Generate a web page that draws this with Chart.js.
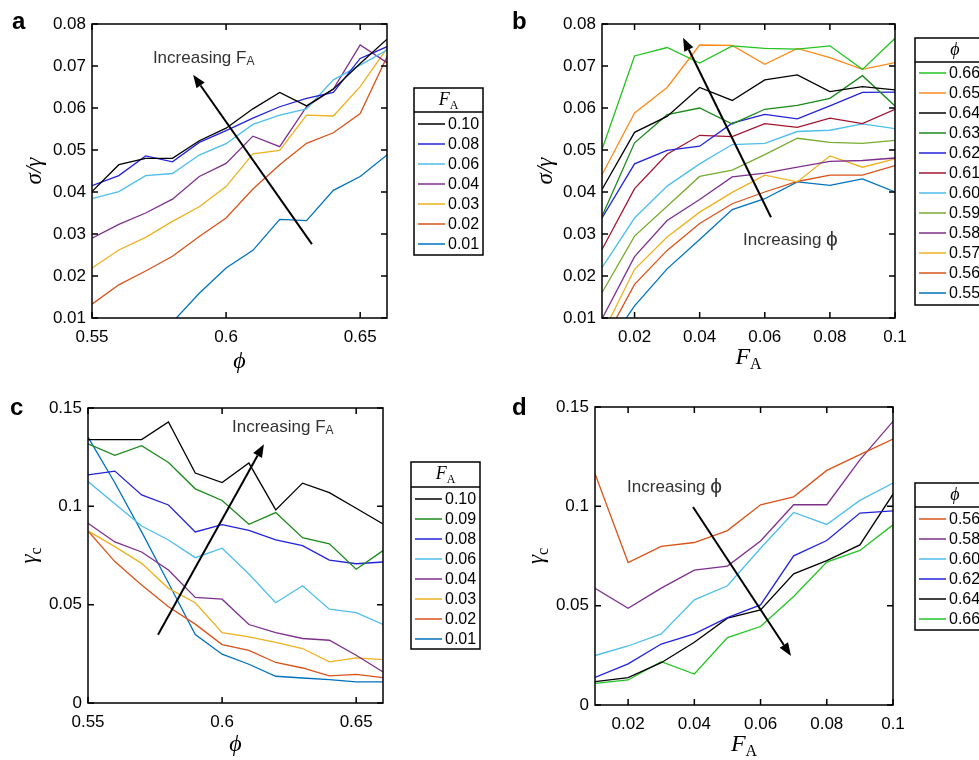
<!DOCTYPE html>
<html>
<head>
<meta charset="utf-8">
<script src="https://cdn.jsdelivr.net/npm/chart.js@4/dist/chart.umd.min.js"></script>
<style>
  html, body { margin: 0; padding: 0; background: #fff; overflow: hidden; }
  body { width: 979px; height: 760px; position: relative; }
  .panel { position: absolute; }
</style>
</head>
<body>
<div class="panel" style="left:0;top:0"><canvas id="pa" width="500" height="380"></canvas></div>
<div class="panel" style="left:500px;top:0"><canvas id="pb" width="479" height="380"></canvas></div>
<div class="panel" style="left:0;top:380px"><canvas id="pc" width="500" height="380"></canvas></div>
<div class="panel" style="left:500px;top:380px"><canvas id="pd" width="479" height="380"></canvas></div>
<script>
// x positions
const phi = [0.55, 0.56, 0.57, 0.58, 0.59, 0.60, 0.61, 0.62, 0.63, 0.64, 0.65, 0.66];
const fa = [0.01, 0.02, 0.03, 0.04, 0.05, 0.06, 0.07, 0.08, 0.09, 0.10];

// panel a: sigma/gamma vs phi, one line per F_A
const aLabels = ["0.10", "0.08", "0.06", "0.04", "0.03", "0.02", "0.01"];
const a010 = [0.0401, 0.0465, 0.048, 0.048, 0.0522, 0.0552, 0.0598, 0.0637, 0.0605, 0.0645, 0.0706, 0.0764];
const a008 = [0.0415, 0.0439, 0.0486, 0.0472, 0.0518, 0.0546, 0.0576, 0.0603, 0.0623, 0.0637, 0.0718, 0.0746];
const a006 = [0.0384, 0.0401, 0.0439, 0.0444, 0.0488, 0.0515, 0.0561, 0.0583, 0.0598, 0.0667, 0.0702, 0.0738];
const a004 = [0.029, 0.0323, 0.035, 0.0383, 0.0437, 0.0468, 0.0533, 0.0508, 0.0603, 0.0645, 0.075, 0.0708];
const a003 = [0.0219, 0.0262, 0.0292, 0.033, 0.0365, 0.0413, 0.0491, 0.0499, 0.0583, 0.0581, 0.0651, 0.0742];
const a002 = [0.0133, 0.0179, 0.0212, 0.0247, 0.0294, 0.0338, 0.0407, 0.0465, 0.0516, 0.0541, 0.0587, 0.0722];
const a001 = [0.002, 0.004, 0.0065, 0.009, 0.0159, 0.0219, 0.0261, 0.0335, 0.0332, 0.0404, 0.0437, 0.0488];

// panel b: sigma/gamma vs F_A, one line per phi
const bLabels = ["0.66", "0.65", "0.64", "0.63", "0.62", "0.61", "0.60", "0.59", "0.58", "0.57", "0.56", "0.55"];
const b066 = [0.0501, 0.0724, 0.0744, 0.0707, 0.0748, 0.0742, 0.074, 0.0748, 0.0692, 0.0766];
const b065 = [0.0441, 0.0588, 0.0649, 0.075, 0.0749, 0.0704, 0.0742, 0.072, 0.0692, 0.0708];
const b064 = [0.0406, 0.0542, 0.058, 0.0649, 0.0618, 0.0667, 0.0679, 0.0639, 0.0651, 0.0643];
const b063 = [0.0342, 0.0517, 0.0584, 0.06, 0.0562, 0.0597, 0.0606, 0.0623, 0.0677, 0.0605];
const b062 = [0.0338, 0.0467, 0.0499, 0.0509, 0.0564, 0.0585, 0.0574, 0.0605, 0.0637, 0.0638];
const b061 = [0.0263, 0.0408, 0.049, 0.0535, 0.0532, 0.0563, 0.0554, 0.0576, 0.0563, 0.0597];
const b060 = [0.022, 0.0338, 0.0414, 0.0467, 0.0513, 0.0516, 0.0544, 0.0547, 0.0562, 0.0551];
const b059 = [0.016, 0.0295, 0.0366, 0.0437, 0.0452, 0.0489, 0.0528, 0.0518, 0.0516, 0.0523];
const b058 = [0.0098, 0.0246, 0.0332, 0.0382, 0.0436, 0.0445, 0.0459, 0.0473, 0.0475, 0.0481];
const b057 = [0.006, 0.0216, 0.0293, 0.0352, 0.0399, 0.044, 0.0424, 0.0486, 0.0459, 0.0479];
const b056 = [0.0037, 0.018, 0.0261, 0.0325, 0.0372, 0.04, 0.0425, 0.044, 0.044, 0.0463];
const b055 = [0.0015, 0.0129, 0.0217, 0.0287, 0.0358, 0.0384, 0.0424, 0.0416, 0.0431, 0.04];

// panel c: gamma_c vs phi, one line per F_A
const cLabels = ["0.10", "0.09", "0.08", "0.06", "0.04", "0.03", "0.02", "0.01"];
const c010 = [0.1339, 0.1339, 0.1339, 0.1429, 0.1169, 0.1121, 0.122, 0.0982, 0.1118, 0.107, 0.099, 0.091];
const c009 = [0.1318, 0.1259, 0.1308, 0.1223, 0.1089, 0.103, 0.0909, 0.0968, 0.0841, 0.0809, 0.068, 0.0775];
const c008 = [0.116, 0.1179, 0.1058, 0.1007, 0.087, 0.0907, 0.0878, 0.0829, 0.08, 0.0727, 0.0708, 0.0717];
const c006 = [0.1126, 0.1013, 0.09, 0.0829, 0.0739, 0.0787, 0.0656, 0.051, 0.0596, 0.0477, 0.0459, 0.0399];
const c004 = [0.0914, 0.0819, 0.0768, 0.0676, 0.0537, 0.0528, 0.0399, 0.0358, 0.0328, 0.0319, 0.0243, 0.0158];
const c003 = [0.0875, 0.0795, 0.071, 0.0583, 0.051, 0.0358, 0.0336, 0.0308, 0.0277, 0.0209, 0.0229, 0.0221];
const c002 = [0.0875, 0.0719, 0.06, 0.0489, 0.0401, 0.0297, 0.0268, 0.0206, 0.0178, 0.0138, 0.0146, 0.0129];
const c001 = [0.1352, 0.112, 0.087, 0.061, 0.0348, 0.0248, 0.0197, 0.0136, 0.0127, 0.0119, 0.0107, 0.0107];

// panel d: gamma_c vs F_A, one line per phi
const dLabels = ["0.56", "0.58", "0.60", "0.62", "0.64", "0.66"];
const d056 = [0.1164, 0.0717, 0.0798, 0.0818, 0.0878, 0.1008, 0.1048, 0.1181, 0.126, 0.1339];
const d058 = [0.0588, 0.0487, 0.0588, 0.0679, 0.0699, 0.0826, 0.1008, 0.1008, 0.1234, 0.1428];
const d060 = [0.0249, 0.0297, 0.0358, 0.0529, 0.06, 0.0789, 0.0969, 0.0909, 0.103, 0.1117];
const d062 = [0.0139, 0.0207, 0.0307, 0.0358, 0.044, 0.0504, 0.0751, 0.0828, 0.0966, 0.0977];
const d064 = [0.0118, 0.0138, 0.0213, 0.0316, 0.0437, 0.0479, 0.066, 0.0727, 0.0806, 0.1061];
const d066 = [0.0109, 0.0126, 0.0218, 0.0156, 0.0339, 0.0395, 0.0546, 0.0719, 0.0778, 0.0907];

// tick values
const phiTicks = [0.55, 0.6, 0.65];
const faTicks = [0.02, 0.04, 0.06, 0.08, 0.1];
const sigTicks = [0.01, 0.02, 0.03, 0.04, 0.05, 0.06, 0.07, 0.08];
const gcTicks = [0, 0.05, 0.1, 0.15];

const SANS = '"Liberation Sans", Arial, Helvetica, sans-serif';
const SERIF = '"Liberation Serif", "Times New Roman", "DejaVu Serif", serif';

const BLACK = "#000000", BLUE = "#2222dd", LBLUE = "#4dbeee", PURPLE = "#7e2f8e",
  YELLOW = "#edb120", RED = "#d95319", DBLUE = "#0072bd", DGREEN = "#1a8a1a",
  GREEN = "#22c422", ORANGE = "#ff8a1a", MAROON = "#a2142f", OLIVE = "#77ac30";

const fmt = v => String(parseFloat(Number(v).toFixed(3)));

const italic = (t, s) => ({ t: t, font: "italic " + s + "px " + SERIF });
const FA = s => [italic("F", s), { t: "A", font: Math.round(s * 0.68) + "px " + SERIF, dy: s * 0.3 }];
const PHI = s => [italic("ϕ", s)];
const SIG = s => [italic("σ/γ", s)];
const GC = s => [italic("γ", s), { t: "c", font: Math.round(s * 0.7) + "px " + SERIF, dy: s * 0.3 }];
const incFA = [{ t: "Increasing F", font: "17px " + SANS }, { t: "A", font: "12px " + SANS, dy: 4 }];
const incPhi = [{ t: "Increasing ", font: "17px " + SANS }, { t: "ϕ", font: "21px " + SANS }];

function drawRich(ctx, parts, x, y, align) {
  let w = 0;
  parts.forEach(p => { ctx.font = p.font; w += ctx.measureText(p.t).width; });
  let cx = align === "center" ? x - w / 2 : x;
  ctx.textAlign = "left";
  ctx.textBaseline = "middle";
  parts.forEach(p => {
    ctx.font = p.font;
    ctx.fillText(p.t, cx, y + (p.dy || 0));
    cx += ctx.measureText(p.t).width;
  });
}

// frame, inward ticks, titles, arrow, label and boxed legend
const decor = {
  id: "decor",
  afterDraw(chart, args, o) {
    const { ctx, chartArea: ca } = chart;
    const xs = chart.scales.x, ys = chart.scales.y;
    ctx.save();
    ctx.strokeStyle = "#000";
    ctx.lineWidth = 1.5;
    ctx.strokeRect(ca.left, ca.top, ca.width, ca.height);
    ctx.beginPath();
    xs.ticks.forEach(t => {
      const p = xs.getPixelForValue(t.value);
      ctx.moveTo(p, ca.bottom); ctx.lineTo(p, ca.bottom - 6);
      ctx.moveTo(p, ca.top); ctx.lineTo(p, ca.top + 6);
    });
    ys.ticks.forEach(t => {
      const p = ys.getPixelForValue(t.value);
      ctx.moveTo(ca.left, p); ctx.lineTo(ca.left + 6, p);
      ctx.moveTo(ca.right, p); ctx.lineTo(ca.right - 6, p);
    });
    ctx.stroke();

    // axis titles
    ctx.fillStyle = "#000";
    drawRich(ctx, o.xTitle, (ca.left + ca.right) / 2, ca.bottom + o.xTitleOff, "center");
    ctx.save();
    ctx.translate(ca.left + o.yTitleOff, (ca.top + ca.bottom) / 2);
    ctx.rotate(-Math.PI / 2);
    drawRich(ctx, o.yTitle, 0, 0, "center");
    ctx.restore();

    // arrow
    const x0 = xs.getPixelForValue(o.arrow[0]), y0 = ys.getPixelForValue(o.arrow[1]);
    const x1 = xs.getPixelForValue(o.arrow[2]), y1 = ys.getPixelForValue(o.arrow[3]);
    const ang = Math.atan2(y1 - y0, x1 - x0), hl = 13, hw = 5;
    ctx.lineWidth = 2;
    ctx.beginPath();
    ctx.moveTo(x0, y0);
    ctx.lineTo(x1 - hl * Math.cos(ang), y1 - hl * Math.sin(ang));
    ctx.stroke();
    ctx.beginPath();
    ctx.moveTo(x1, y1);
    ctx.lineTo(x1 - hl * Math.cos(ang) + hw * Math.sin(ang), y1 - hl * Math.sin(ang) - hw * Math.cos(ang));
    ctx.lineTo(x1 - hl * Math.cos(ang) - hw * Math.sin(ang), y1 - hl * Math.sin(ang) + hw * Math.cos(ang));
    ctx.closePath();
    ctx.fillStyle = "#000";
    ctx.fill();

    // annotation text
    ctx.fillStyle = "#333";
    drawRich(ctx, o.note, xs.getPixelForValue(o.noteAt[0]), ys.getPixelForValue(o.noteAt[1]), "left");

    // panel letter
    ctx.fillStyle = "#000";
    ctx.font = "bold 24px " + SANS;
    ctx.textBaseline = "alphabetic";
    ctx.textAlign = "left";
    ctx.fillText(o.letter, o.letterAt[0], o.letterAt[1]);

    // legend
    const L = o.legend, ds = chart.data.datasets;
    const h = L.headH + L.pad + (ds.length - 1) * L.step + L.bottom;
    ctx.fillStyle = "#fff";
    ctx.fillRect(L.x, L.y, L.w, h);
    ctx.lineWidth = 1.5;
    ctx.strokeStyle = "#000";
    ctx.strokeRect(L.x, L.y, L.w, h);
    ctx.beginPath();
    ctx.moveTo(L.x, L.y + L.headH); ctx.lineTo(L.x + L.w, L.y + L.headH);
    ctx.stroke();
    ctx.fillStyle = "#000";
    drawRich(ctx, L.head, L.x + L.w / 2, L.y + L.headH / 2, "center");
    ds.forEach((d, i) => {
      const yy = L.y + L.headH + L.pad + i * L.step;
      ctx.strokeStyle = d.borderColor;
      ctx.lineWidth = 1.5;
      ctx.beginPath();
      ctx.moveTo(L.x + 4, yy); ctx.lineTo(L.x + 31, yy);
      ctx.stroke();
      ctx.fillStyle = "#000";
      ctx.font = "16px " + SANS;
      ctx.textBaseline = "middle";
      ctx.fillText(d.label, L.x + 34, yy + 1);
    });
    ctx.restore();
  }
};

function axis(min, max, ticks, size, isX) {
  return {
    type: "linear",
    min: min,
    max: max,
    grid: { display: false, drawTicks: false },
    border: { display: false },
    ticks: {
      color: "#000",
      font: { family: SANS, size: 17 },
      padding: isX ? 9 : 6,
      autoSkip: false,
      maxRotation: 0,
      callback: v => fmt(v)
    },
    afterBuildTicks: s => { s.ticks = ticks.map(v => ({ value: v })); },
    afterFit: s => { if (isX) s.height = size; else s.width = size; }
  };
}

function makePanel(id, p) {
  return new Chart(document.getElementById(id), {
    type: "line",
    data: {
      datasets: p.series.map((s, i) => ({
        label: p.labels[i],
        data: p.x.map((xv, j) => ({ x: xv, y: s[j] })),
        borderColor: p.colors[i],
        backgroundColor: p.colors[i],
        borderWidth: 1.3,
        pointRadius: 0,
        tension: 0,
        fill: false
      }))
    },
    options: {
      responsive: false,
      animation: false,
      devicePixelRatio: 1,
      layout: { padding: p.pad },
      plugins: { legend: { display: false }, tooltip: { enabled: false }, decor: p.decor },
      scales: {
        x: axis(p.xr[0], p.xr[1], p.xTicks, p.xH, true),
        y: axis(p.yr[0], p.yr[1], p.yTicks, p.yW, false)
      }
    },
    plugins: [decor]
  });
}

makePanel("pa", {
  x: phi, labels: aLabels,
  series: [a010, a008, a006, a004, a003, a002, a001],
  colors: [BLACK, BLUE, LBLUE, PURPLE, YELLOW, RED, DBLUE],
  xr: [0.55, 0.66], yr: [0.01, 0.08], xTicks: phiTicks, yTicks: sigTicks,
  pad: { top: 24, right: 113, left: 0, bottom: 0 }, yW: 92, xH: 62,
  decor: {
    xTitle: PHI(24), xTitleOff: 44, yTitle: SIG(23), yTitleOff: -57,
    arrow: [0.632, 0.0276, 0.5877, 0.0679], note: incFA, noteAt: [0.5727, 0.0719],
    letter: "a", letterAt: [12, 29],
    legend: { x: 414, y: 88, w: 69, headH: 24, pad: 12, step: 20, bottom: 11, head: FA(18) }
  }
});

makePanel("pb", {
  x: fa, labels: bLabels,
  series: [b066, b065, b064, b063, b062, b061, b060, b059, b058, b057, b056, b055],
  colors: [GREEN, ORANGE, BLACK, DGREEN, BLUE, MAROON, LBLUE, OLIVE, PURPLE, YELLOW, RED, DBLUE],
  xr: [0.01, 0.1], yr: [0.01, 0.08], xTicks: faTicks, yTicks: sigTicks,
  pad: { top: 24, right: 84, left: 0, bottom: 0 }, yW: 102, xH: 62,
  decor: {
    xTitle: FA(24), xTitleOff: 40, yTitle: SIG(23), yTitleOff: -56,
    arrow: [0.0619, 0.034, 0.0349, 0.0767], note: incPhi, noteAt: [0.0533, 0.0286],
    letter: "b", letterAt: [12, 29],
    legend: { x: 415, y: 38, w: 80, headH: 24, pad: 11, step: 20, bottom: 12, head: PHI(18) }
  }
});

makePanel("pc", {
  x: phi, labels: cLabels,
  series: [c010, c009, c008, c006, c004, c003, c002, c001],
  colors: [BLACK, DGREEN, BLUE, LBLUE, PURPLE, YELLOW, RED, DBLUE],
  xr: [0.55, 0.66], yr: [0, 0.15], xTicks: phiTicks, yTicks: gcTicks,
  pad: { top: 28, right: 117, left: 0, bottom: 0 }, yW: 88, xH: 57,
  decor: {
    xTitle: PHI(24), xTitleOff: 42, yTitle: GC(23), yTitleOff: -58,
    arrow: [0.5761, 0.0347, 0.6156, 0.1316], note: incFA, noteAt: [0.6037, 0.1403],
    letter: "c", letterAt: [10, 35],
    legend: { x: 411, y: 82, w: 69, headH: 25, pad: 12, step: 20, bottom: 10, head: FA(18) }
  }
});

makePanel("pd", {
  x: fa, labels: dLabels,
  series: [d056, d058, d060, d062, d064, d066],
  colors: [RED, PURPLE, LBLUE, BLUE, BLACK, GREEN],
  xr: [0.01, 0.1], yr: [0, 0.15], xTicks: faTicks, yTicks: gcTicks,
  pad: { top: 27, right: 86, left: 0, bottom: 0 }, yW: 95, xH: 55,
  decor: {
    xTitle: FA(24), xTitleOff: 40, yTitle: GC(23), yTitleOff: -58,
    arrow: [0.0396, 0.0997, 0.0692, 0.0247], note: incPhi, noteAt: [0.0197, 0.1097],
    letter: "d", letterAt: [12, 35],
    legend: { x: 415, y: 103, w: 80, headH: 24, pad: 12, step: 20, bottom: 11, head: PHI(18) }
  }
});
</script>
</body>
</html>
